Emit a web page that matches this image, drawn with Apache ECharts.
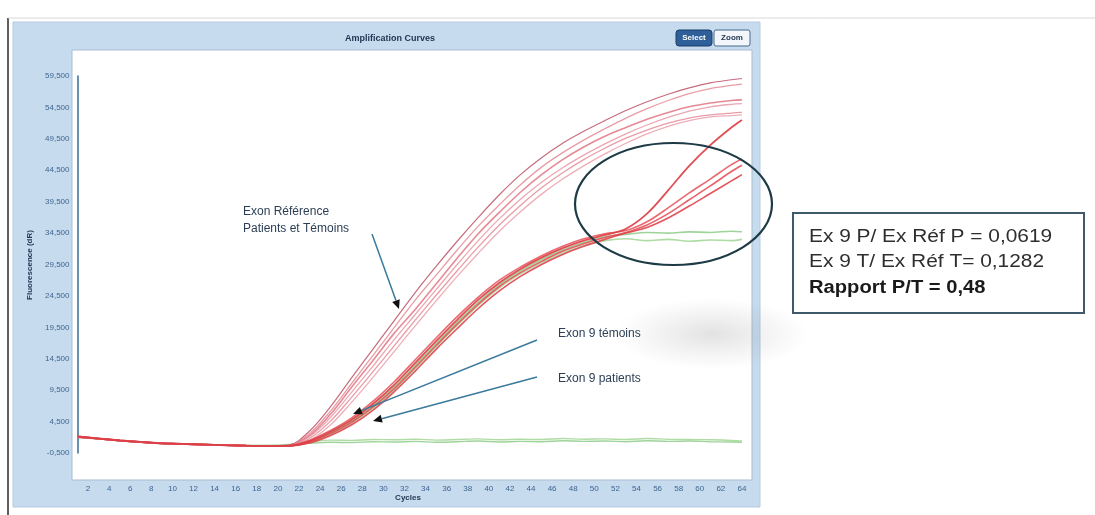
<!DOCTYPE html>
<html>
<head>
<meta charset="utf-8">
<script src="https://cdn.jsdelivr.net/npm/echarts@6/dist/echarts.min.js"></script>
<style>
html,body{margin:0;padding:0;background:#fff;}
#chart{width:1095px;height:515px;}
</style>
</head>
<body>
<div id="chart"></div>
<script>
// ---------- DATA ----------
const cycles = [1,3,5,7,9,11,13,15,17,19,21,23,25,27,29,31,33,35,37,39,41,43,45,47,49,51,53,55,57,59,61,63,64];
const xTickLabels = [2,4,6,8,10,12,14,16,18,20,22,24,26,28,30,32,34,36,38,40,42,44,46,48,50,52,54,56,58,60,62,64];

// Exon Référence (patients + témoins)
const ref1 = [2200,1850,1550,1300,1100,980,870,770,700,650,750,3000,6900,11500,16000,20500,25000,29200,33200,37000,40600,43800,46500,48800,50700,52400,54000,55400,56600,57600,58400,58900,59100];
const ref2 = [2100,1800,1500,1250,1050,950,850,750,680,620,700,2600,6200,10600,15000,19400,23800,27800,31800,35600,39000,42200,45000,47300,49300,51100,52800,54300,55600,56700,57500,58000,58200];
const ref3 = [2050,1780,1480,1230,1030,930,830,730,650,600,680,2300,5700,10000,14200,18500,22300,26400,30500,34400,37800,41000,43800,46200,48200,49900,51300,52600,53700,54600,55200,55600,55700];
const ref4 = [2000,1750,1450,1200,1000,900,800,720,640,590,660,2100,5200,9200,13300,17500,21500,25500,29500,33300,36800,39900,42600,44900,46900,48700,50300,51700,52900,53900,54600,55000,55100];
const ref5 = [2150,1820,1520,1270,1070,960,860,760,670,610,650,1800,4600,8400,12400,16500,20600,24600,28500,32300,35800,38900,41700,44100,46200,48000,49600,50900,52000,52800,53300,53600,53700];
const ref6 = [2050,1760,1460,1210,1010,910,810,710,630,580,620,1500,4000,7600,11500,15600,19700,23700,27600,31300,34800,37900,40700,43100,45200,47100,48800,50300,51500,52400,53000,53200,53300];

// Exon 9 (red)
const ex9a = [2100,1790,1490,1240,1040,940,840,740,660,600,640,1400,2900,4800,7300,10300,13800,17300,20700,23900,26600,28800,30600,32100,33300,34200,35200,37600,41300,45200,48500,51300,52500];
const ex9b = [2000,1760,1460,1220,1020,920,820,720,640,590,620,1200,2600,4400,6800,9700,13100,16600,20000,23200,26000,28200,30000,31600,32800,33800,34600,35800,37600,39800,42000,44300,45300];
const ex9c = [2150,1830,1520,1270,1060,960,860,760,670,610,630,1100,2300,4000,6300,9200,12500,16000,19300,22500,25300,27600,29500,31100,32400,33500,34500,35400,36900,38800,40800,42800,43800];
const ex9d = [2050,1770,1470,1230,1030,930,830,730,650,600,650,1500,3100,5100,7700,10800,14300,17800,21200,24300,27000,29100,30900,32400,33600,34400,34900,36300,38500,40900,43100,45400,46300];

// Green curves
const green1 = [2000,1760,1470,1230,1040,950,860,780,720,700,800,1050,1200,1150,1300,1250,1350,1200,1300,1400,1250,1350,1300,1450,1350,1400,1300,1450,1350,1400,1300,1250,1200];
const green2 = [2100,1800,1500,1260,1060,960,870,790,730,710,850,1300,1550,1500,1650,1600,1700,1550,1650,1750,1600,1700,1650,1800,1700,1750,1650,1800,1700,1650,1600,1500,1400];
const green3 = [2050,1770,1470,1230,1030,930,830,730,650,600,640,1300,2700,4600,7000,10000,13400,16900,20300,23500,26300,28500,30300,31800,33000,33900,34300,34600,34500,34700,34600,34800,34700];
const green4 = [2080,1780,1480,1240,1040,940,840,740,660,600,630,1200,2500,4300,6600,9500,12900,16400,19800,23000,25800,28000,29800,31300,32500,33300,33600,33300,33500,33200,33400,33300,33500];

// ---------- CHART ----------
const chart = echarts.init(document.getElementById('chart'), null, {renderer:'canvas'});

function mk(name, vals, color, width, opacity, z){
  return {
    name: name, type:'line', showSymbol:false, smooth:0.35, z:z,
    data: cycles.map((c,i)=>[c, vals[i]]),
    lineStyle:{color:color, width:width, opacity:opacity},
    itemStyle:{color:color},
    emphasis:{disabled:true}
  };
}

const series = [
  mk('green1', green1, '#93cf8e', 1.4, 0.9, 2),
  mk('green2', green2, '#a6d79a', 1.4, 0.9, 2),
  mk('green3', green3, '#93cf8e', 1.6, 0.9, 2),
  mk('green4', green4, '#a6d79a', 1.6, 0.9, 2),
  mk('ref1', ref1, '#b8475c', 1.2, 0.8, 3),
  mk('ref2', ref2, '#e48390', 1.3, 0.8, 3),
  mk('ref3', ref3, '#e27683', 1.6, 0.85, 3),
  mk('ref4', ref4, '#e890a0', 1.3, 0.8, 3),
  mk('ref5', ref5, '#e48390', 1.3, 0.8, 3),
  mk('ref6', ref6, '#e99aa6', 1.3, 0.8, 3),
  mk('ex9b', ex9b, '#e4515a', 1.6, 0.9, 4),
  mk('ex9c', ex9c, '#e0444d', 1.6, 0.9, 4),
  mk('ex9d', ex9d, '#e85a62', 1.6, 0.9, 4),
  mk('ex9a', ex9a, '#dd3c44', 1.8, 0.9, 4)
];

function yFmt(v){
  const a = Math.abs(v);
  return (v<0?'-':'') + Math.floor(a/1000) + ',' + String(a%1000).padStart(3,'0');
}

// arrow helper (decoration)
function arrow(x1,y1,x2,y2,color){
  const ang = Math.atan2(y2-y1, x2-x1);
  const L = 9, W = 4;
  const bx = x2 - L*Math.cos(ang), by = y2 - L*Math.sin(ang);
  const px = -Math.sin(ang)*W, py = Math.cos(ang)*W;
  return [
    {type:'line', z:50, shape:{x1:x1,y1:y1,x2:bx,y2:by}, style:{stroke:color, lineWidth:1.5}},
    {type:'polygon', z:50, shape:{points:[[x2,y2],[bx+px,by+py],[bx-px,by-py]]}, style:{fill:'#111'}}
  ];
}

const FONT = '"Liberation Sans", Arial, sans-serif';
const graphics = [
  // page frame lines
  {type:'line', z:-30, shape:{x1:8,y1:18,x2:8,y2:515}, style:{stroke:'#2a2a2a', lineWidth:1.5}},
  {type:'line', z:-30, shape:{x1:8,y1:18,x2:1095,y2:18}, style:{stroke:'#d8d8d8', lineWidth:1}},
  // blue application panel
  {type:'rect', z:-25, shape:{x:13,y:22,width:747,height:485}, style:{fill:'#c6dbee', stroke:'#b5cbe0', lineWidth:1}},
  // white plot area
  {type:'rect', z:-20, shape:{x:72,y:50,width:680,height:430}, style:{fill:'#ffffff', stroke:'#a9bdd2', lineWidth:1}},
  // title
  {type:'text', z:10, x:390, y:39, style:{text:'Amplification Curves', font:'bold 9px ' + FONT, fill:'#1e3350', textAlign:'center', textVerticalAlign:'middle'}},
  // buttons
  {type:'rect', z:10, shape:{x:676,y:30,width:36,height:16,r:3}, style:{fill:'#2f5f98', stroke:'#1b3d6b', lineWidth:1}},
  {type:'text', z:11, x:694, y:38, style:{text:'Select', font:'bold 8px ' + FONT, fill:'#ffffff', textAlign:'center', textVerticalAlign:'middle'}},
  {type:'rect', z:10, shape:{x:714,y:30,width:36,height:16,r:2}, style:{fill:'#f3f7fb', stroke:'#46698e', lineWidth:1}},
  {type:'text', z:11, x:732, y:38, style:{text:'Zoom', font:'bold 8px ' + FONT, fill:'#1e3350', textAlign:'center', textVerticalAlign:'middle'}},
  // axis names
  {type:'text', z:10, x:408, y:498, style:{text:'Cycles', font:'bold 8px ' + FONT, fill:'#1e3350', textAlign:'center', textVerticalAlign:'middle'}},
  {type:'text', z:10, x:30, y:265, rotation:Math.PI/2, style:{text:'Fluorescence (dR)', font:'bold 8px ' + FONT, fill:'#1e3350', textAlign:'center', textVerticalAlign:'middle'}},
  // grey smudge
  {type:'circle', z:1, x:712, y:334, scaleX:2.3, scaleY:0.85, shape:{cx:0,cy:0,r:42}, style:{fill:{type:'radial',x:0.5,y:0.5,r:0.5,colorStops:[{offset:0,color:'rgba(110,110,110,0.20)'},{offset:0.6,color:'rgba(120,120,120,0.08)'},{offset:1,color:'rgba(120,120,120,0)'}]}}},
  // annotations
  {type:'text', z:50, x:243, y:212, style:{text:'Exon Référence', font:'12px ' + FONT, fill:'#2c3e55', textVerticalAlign:'middle'}},
  {type:'text', z:50, x:243, y:229, style:{text:'Patients et Témoins', font:'12px ' + FONT, fill:'#2c3e55', textVerticalAlign:'middle'}},
  {type:'text', z:50, x:558, y:334, style:{text:'Exon 9 témoins', font:'12px ' + FONT, fill:'#2c3e55', textVerticalAlign:'middle'}},
  {type:'text', z:50, x:558, y:379, style:{text:'Exon 9 patients', font:'12px ' + FONT, fill:'#2c3e55', textVerticalAlign:'middle'}},
  ...arrow(372,234,399,309,'#3b7a9c'),
  ...arrow(537,340,353,414,'#3b7a9c'),
  ...arrow(537,377,373,421,'#3b7a9c'),
  // ellipse highlight
  {type:'ellipse', z:60, shape:{cx:673.5,cy:204,rx:98.5,ry:61}, style:{fill:'none', stroke:'#1d3a45', lineWidth:2.2}},
  // result box
  {type:'rect', z:10, shape:{x:793,y:213,width:291,height:100}, style:{fill:'#ffffff', stroke:'#3f5a6b', lineWidth:2}},
  {type:'text', z:11, x:809, y:237, scaleX:1.16, style:{text:'Ex 9 P/ Ex Réf P = 0,0619', font:'18px ' + FONT, fill:'#2e2e2e', textVerticalAlign:'middle'}},
  {type:'text', z:11, x:809, y:262, scaleX:1.16, style:{text:'Ex 9 T/ Ex Réf T= 0,1282', font:'18px ' + FONT, fill:'#2e2e2e', textVerticalAlign:'middle'}},
  {type:'text', z:11, x:809, y:288, scaleX:1.12, style:{text:'Rapport P/T = 0,48', font:'bold 18px ' + FONT, fill:'#1a1a1a', textVerticalAlign:'middle'}}
];

const option = {
  animation:false,
  backgroundColor:'#ffffff',
  grid:{left:77.5, right:342.5, top:76, bottom:62, containLabel:false},
  xAxis:{
    type:'value', min:1, max:65, offset:27,
    axisLine:{show:false}, axisTick:{show:false},
    axisLabel:{customValues:xTickLabels, fontSize:8, color:'#3f6590', margin:5, fontFamily:'Liberation Sans'},
    splitLine:{show:false}
  },
  yAxis:{
    type:'value', min:-500, max:59500, interval:5000,
    axisLine:{show:true, onZero:false, lineStyle:{color:'#3a6d96', width:1.5}},
    axisTick:{show:false},
    axisLabel:{formatter:yFmt, fontSize:8, color:'#3f6590', margin:8, fontFamily:'Liberation Sans'},
    splitLine:{show:false}
  },
  series: series,
  graphic: graphics
};
chart.setOption(option);
</script>
</body>
</html>
